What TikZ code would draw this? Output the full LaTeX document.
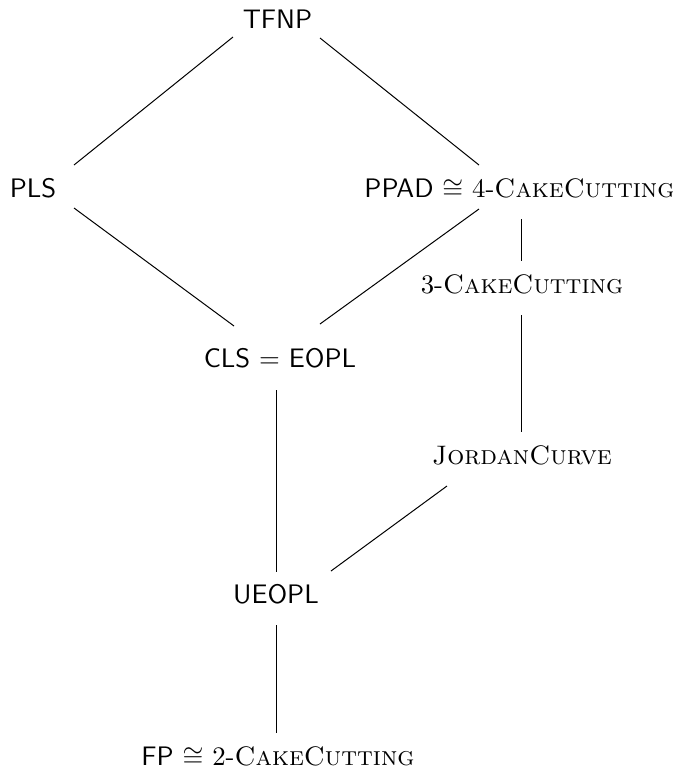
\documentclass[tikz,border=0pt]{standalone}
\usepackage{graphicx}
\newcommand{\bigtxt}[1]{\scalebox{1.07}{#1}}
\begin{document}
\begin{tikzpicture}[x=0.4pt,y=-0.4pt,
  cls/.style={anchor=base,inner sep=0pt,outer sep=0pt},
  link/.style={draw=black,line width=0.4pt}]
\useasboundingbox (0,0) rectangle (673,776);
\node[cls] (tfnp) at (277.5,28) {\bigtxt{\textsf{TFNP}}};
\node[cls] (pls) at (33,197) {\bigtxt{\textsf{PLS}}};
\node[cls] (ppad) at (519.5,197) {\bigtxt{\textsf{PPAD} $\cong$ 4-\textsc{CakeCutting}}};
\node[cls] (cc3) at (522,293) {\bigtxt{3-\textsc{CakeCutting}}};
\node[cls] (clsn) at (280,367) {\bigtxt{\textsf{CLS} $=$ \textsf{EOPL}}};
\node[cls] (jordan) at (522,464) {\bigtxt{\textsc{JordanCurve}}};
\node[cls] (ueopl) at (276,603) {\bigtxt{\textsf{UEOPL}}};
\node[cls] (fp) at (278,765) {\bigtxt{\textsf{FP} $\cong$ 2-\textsc{CakeCutting}}};

\draw[link] ([shift={(-44.5,9)}]tfnp.base) -- ([shift={(41,-32)}]pls.base);
\draw[link] ([shift={(42.5,10)}]tfnp.base) -- ([shift={(-40.5,-32)}]ppad.base);
\draw[link] ([shift={(41,11)}]pls.base) -- ([shift={(-46,-41)}]clsn.base);
\draw[link] ([shift={(-40.5,12)}]ppad.base) -- ([shift={(40,-43)}]clsn.base);
\draw[link] ([shift={(2.5,22)}]ppad.base) -- ([shift={(0,-32)}]cc3.base);
\draw[link] ([shift={(0,22)}]cc3.base) -- ([shift={(0,-32)}]jordan.base);
\draw[link] ([shift={(-3,23)}]clsn.base) -- ([shift={(1,-31)}]ueopl.base);
\draw[link] ([shift={(-75,22)}]jordan.base) -- ([shift={(55,-32)}]ueopl.base);
\draw[link] ([shift={(1,22)}]ueopl.base) -- ([shift={(-1,-32)}]fp.base);
\end{tikzpicture}
\end{document}
